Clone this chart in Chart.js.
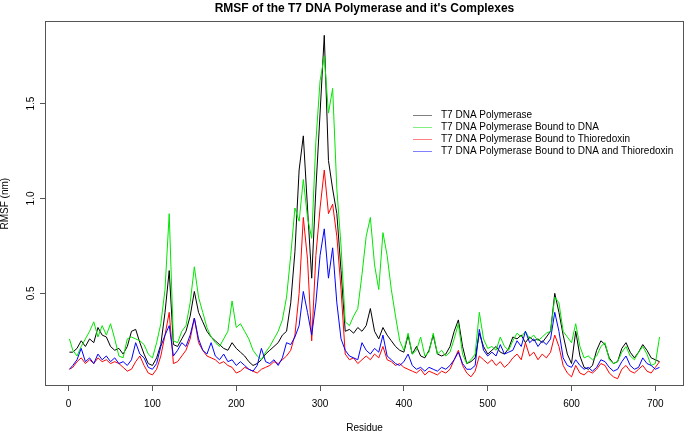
<!DOCTYPE html>
<html><head><meta charset="utf-8">
<script src="https://cdn.jsdelivr.net/npm/chart.js@4.4.1/dist/chart.umd.min.js"></script>
<style>html,body{margin:0;padding:0;background:#fff;}#wrap{width:685px;height:432px;}</style>
</head><body><div id="wrap"><canvas id="c" width="685" height="432"></canvas></div>
<script>
// residue numbers (x positions of samples): 1, 5, 10, ... 705
const firstResidue = 1, residueStep = 5, lastResidue = 705;
const residues = [firstResidue];
for (let r = residueStep; r <= lastResidue; r += residueStep) residues.push(r);

const seriesNames = [
  "T7 DNA Polymerase",
  "T7 DNA Polymerase Bound to DNA",
  "T7 DNA Polymerase Bound to Thioredoxin",
  "T7 DNA Polymerase Bound to DNA and Thioredoxin"
];
const seriesColors = ["#000000", "#00e600", "#ff0000", "#0000ff"];
const legendColors = ["#808080", "#80f080", "#ff8080", "#8080ff"];

const polymerase = [
  0.19,0.19,0.21,0.25,0.22,0.26,0.24,0.32,0.28,0.27,
  0.22,0.20,0.21,0.18,0.22,0.30,0.31,0.24,0.18,0.13,
  0.12,0.16,0.23,0.40,0.62,0.23,0.22,0.26,0.30,0.38,
  0.51,0.40,0.35,0.30,0.27,0.25,0.23,0.21,0.20,0.24,
  0.21,0.19,0.17,0.14,0.12,0.13,0.15,0.18,0.20,0.22,
  0.24,0.28,0.30,0.45,0.72,1.15,1.33,0.95,0.58,1.05,
  1.45,1.86,1.20,1.05,0.92,0.62,0.30,0.31,0.29,0.32,
  0.30,0.33,0.42,0.30,0.26,0.32,0.28,0.25,0.22,0.20,
  0.19,0.28,0.18,0.22,0.17,0.16,0.20,0.28,0.18,0.17,
  0.18,0.22,0.30,0.36,0.22,0.13,0.14,0.16,0.29,0.22,
  0.18,0.20,0.22,0.19,0.18,0.21,0.27,0.26,0.28,0.24,
  0.27,0.25,0.26,0.24,0.27,0.30,0.50,0.40,0.28,0.18,
  0.13,0.30,0.17,0.11,0.10,0.12,0.20,0.25,0.23,0.16,
  0.13,0.14,0.21,0.24,0.19,0.16,0.19,0.23,0.20,0.16,
  0.15,0.14
];
const boundDNA = [
  0.26,0.20,0.17,0.22,0.26,0.30,0.35,0.27,0.33,0.28,
  0.34,0.26,0.17,0.16,0.26,0.27,0.26,0.25,0.23,0.18,
  0.16,0.24,0.34,0.52,0.92,0.25,0.24,0.30,0.33,0.45,
  0.64,0.48,0.40,0.32,0.27,0.24,0.22,0.26,0.30,0.46,
  0.32,0.34,0.30,0.26,0.20,0.17,0.15,0.19,0.22,0.26,
  0.30,0.36,0.48,0.70,0.95,0.88,1.10,0.90,0.79,1.30,
  1.62,1.75,1.45,1.58,1.05,0.75,0.35,0.33,0.38,0.42,
  0.60,0.80,0.90,0.65,0.52,0.82,0.70,0.52,0.38,0.25,
  0.20,0.29,0.18,0.20,0.27,0.17,0.19,0.29,0.18,0.20,
  0.17,0.19,0.26,0.34,0.18,0.13,0.15,0.18,0.40,0.26,
  0.21,0.22,0.20,0.27,0.22,0.20,0.25,0.29,0.27,0.30,
  0.26,0.28,0.25,0.27,0.29,0.30,0.48,0.45,0.30,0.27,
  0.24,0.34,0.22,0.16,0.17,0.15,0.17,0.22,0.24,0.15,
  0.13,0.14,0.19,0.22,0.17,0.15,0.19,0.22,0.18,0.12,
  0.13,0.27
];
const boundThioredoxin = [
  0.10,0.11,0.14,0.16,0.13,0.15,0.13,0.16,0.14,0.15,
  0.13,0.14,0.13,0.11,0.09,0.10,0.14,0.17,0.12,0.08,
  0.07,0.10,0.17,0.28,0.40,0.13,0.14,0.17,0.20,0.26,
  0.37,0.24,0.20,0.17,0.16,0.15,0.13,0.14,0.12,0.11,
  0.08,0.09,0.11,0.10,0.09,0.08,0.10,0.11,0.12,0.14,
  0.13,0.15,0.17,0.20,0.28,0.50,0.90,0.68,0.25,0.70,
  0.95,1.15,0.92,0.97,0.80,0.52,0.18,0.15,0.16,0.13,
  0.15,0.17,0.15,0.18,0.16,0.22,0.15,0.14,0.12,0.13,
  0.11,0.10,0.09,0.08,0.10,0.07,0.09,0.08,0.07,0.09,
  0.08,0.10,0.15,0.20,0.12,0.08,0.06,0.09,0.17,0.15,
  0.13,0.15,0.12,0.14,0.11,0.13,0.16,0.18,0.15,0.24,
  0.17,0.19,0.15,0.18,0.16,0.19,0.28,0.22,0.12,0.08,
  0.06,0.12,0.08,0.07,0.09,0.08,0.10,0.13,0.12,0.08,
  0.06,0.05,0.10,0.12,0.09,0.08,0.10,0.12,0.09,0.08,
  0.11,0.14
];
const boundDNAThioredoxin = [
  0.10,0.12,0.15,0.21,0.14,0.16,0.13,0.18,0.15,0.17,
  0.14,0.16,0.13,0.14,0.12,0.15,0.24,0.18,0.16,0.11,
  0.10,0.13,0.22,0.28,0.33,0.17,0.20,0.24,0.22,0.28,
  0.37,0.26,0.20,0.18,0.24,0.17,0.15,0.18,0.14,0.15,
  0.12,0.14,0.12,0.10,0.09,0.12,0.21,0.14,0.13,0.15,
  0.12,0.16,0.24,0.23,0.27,0.33,0.51,0.40,0.28,0.45,
  0.70,0.84,0.58,0.74,0.45,0.26,0.20,0.17,0.16,0.15,
  0.24,0.20,0.18,0.21,0.19,0.28,0.17,0.15,0.13,0.12,
  0.14,0.18,0.12,0.10,0.11,0.09,0.11,0.10,0.09,0.11,
  0.10,0.12,0.15,0.19,0.13,0.10,0.10,0.12,0.31,0.20,
  0.17,0.19,0.17,0.23,0.18,0.19,0.20,0.25,0.22,0.30,
  0.24,0.26,0.22,0.25,0.23,0.26,0.40,0.30,0.16,0.12,
  0.11,0.15,0.12,0.10,0.11,0.09,0.11,0.15,0.14,0.11,
  0.09,0.10,0.14,0.17,0.12,0.10,0.11,0.16,0.13,0.12,
  0.10,0.11
];

const xTicks = [0, 100, 200, 300, 400, 500, 600, 700];
const yTicks = [0.5, 1.0, 1.5];
const titleText = "RMSF of the T7 DNA Polymerase and it's Complexes";
const xTitle = "Residue";
const yTitle = "RMSF (nm)";

const FONT = "'Liberation Sans', Arial, Helvetica, sans-serif";
const allSeries = [polymerase, boundDNA, boundThioredoxin, boundDNAThioredoxin];

const datasets = allSeries.map((vals, i) => ({
  label: seriesNames[i],
  data: vals.map((v, j) => ({x: residues[j], y: v})),
  borderColor: seriesColors[i],
  backgroundColor: seriesColors[i],
  borderWidth: 1,
  pointRadius: 0,
  tension: 0,
  fill: false,
  order: allSeries.length - 1 - i
}));

const boxPlugin = {
  id: 'box',
  afterDraw(chart) {
    const {ctx, chartArea: a} = chart;
    ctx.save();
    ctx.strokeStyle = '#555';
    ctx.lineWidth = 1;
    ctx.strokeRect(Math.round(a.left) - 0.5, Math.round(a.top) - 0.5,
                   Math.round(a.right - a.left) + 1, Math.round(a.bottom - a.top) + 1);
    ctx.restore();
  }
};

const legendPlugin = {
  id: 'rlegend',
  afterDraw(chart) {
    const {ctx, chartArea: a} = chart;
    const x0 = Math.round(a.left + (a.right - a.left) * 0.576);
    const y0 = a.top + 93;
    const rowH = 12;
    ctx.save();
    ctx.font = "10px " + FONT;
    ctx.textBaseline = 'middle';
    ctx.textAlign = 'left';
    seriesNames.forEach((name, i) => {
      const y = Math.round(y0 + i * rowH);
      ctx.fillStyle = legendColors[i];
      ctx.fillRect(x0, y, 19, 1);
      ctx.fillStyle = '#000';
      ctx.fillText(name, x0 + 28, y + 0.5);
    });
    ctx.restore();
  }
};

new Chart(document.getElementById('c'), {
  type: 'line',
  data: {datasets},
  options: {
    responsive: false,
    animation: false,
    devicePixelRatio: 1,
    layout: {padding: {left: 0, right: 2, top: 0, bottom: 0}},
    plugins: {
      legend: {display: false},
      tooltip: {enabled: false},
      title: {
        display: true, text: titleText, color: '#000', fullSize: false,
        font: {family: FONT, size: 12, weight: 'bold'},
        padding: {top: 1, bottom: 7}
      }
    },
    scales: {
      x: {
        type: 'linear', min: -27, max: 733,
        afterBuildTicks: s => { s.ticks = xTicks.map(v => ({value: v})); },
        afterFit: s => { s.height = 47; },
        ticks: {font: {family: FONT, size: 10}, color: '#000', padding: 7, maxRotation: 0, autoSkip: false},
        grid: {drawOnChartArea: false, drawTicks: true, tickLength: 6, color: '#555'},
        border: {display: false},
        title: {display: true, text: xTitle, color: '#000', font: {family: FONT, size: 10, lineHeight: 1}, padding: {top: 0, bottom: -1}}
      },
      y: {
        type: 'linear', min: 0.017, max: 1.928,
        afterBuildTicks: s => { s.ticks = yTicks.map(v => ({value: v})); },
        afterFit: s => { s.width = 46; },
        ticks: {font: {family: FONT, size: 10}, color: '#000', padding: 2, minRotation: 90, maxRotation: 90,
                crossAlign: 'center', autoSkip: false, callback: v => Number(v).toFixed(1)},
        grid: {drawOnChartArea: false, drawTicks: true, tickLength: 6, color: '#555'},
        border: {display: false},
        title: {display: true, text: yTitle, color: '#000', font: {family: FONT, size: 10, lineHeight: 1}, padding: {top: 0, bottom: 0}}
      }
    }
  },
  plugins: [boxPlugin, legendPlugin]
});
</script>
</body></html>
